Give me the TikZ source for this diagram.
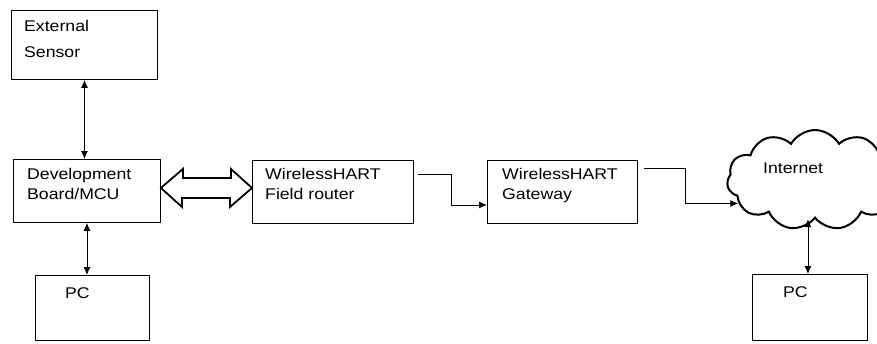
\documentclass[tikz,border=0pt]{standalone}
\usepackage{fontspec}
\setmainfont{Liberation Sans}[FakeStretch=1.14]
\usetikzlibrary{shapes.symbols,arrows.meta}

\begin{document}
\begin{tikzpicture}[x=1pt, y=-1pt,
  box/.style={draw, line width=0.9pt, inner sep=0pt, anchor=north west},
  txt/.style={anchor=north west, inner sep=0pt, align=left, font=\fontsize{15.5}{20}\selectfont},
  link/.style={line width=0.9pt, {Latex[length=8pt,width=7pt]}-{Latex[length=8pt,width=7pt]}},
  flow/.style={line width=0.9pt, -{Latex[length=8pt,width=7pt]}}]
  % page frame
  \useasboundingbox (0,0) rectangle (877,343);
  \clip (0,0) rectangle (877,343);

  % boxes
  \node[box, minimum width=146, minimum height=69] (sensor) at (11,10) {};
  \node[box, minimum width=147, minimum height=63] (board) at (13,159) {};
  \node[box, minimum width=114, minimum height=65] (pc1) at (35,275) {};
  \node[box, minimum width=161, minimum height=63] (router) at (252,160) {};
  \node[box, minimum width=150, minimum height=63] (gw) at (487,160) {};
  \node[box, minimum width=115, minimum height=66] (pc2) at (752,274) {};
  \node[cloud, draw, line width=2pt, cloud puffs=11, cloud puff arc=120, aspect=1.8,
        minimum width=176, minimum height=100, inner sep=0pt] (inet) at (815,180) {};

  % texts
  \node[txt] (sensortxt) at ([shift={(13,10)}]sensor.north west) {External\\[6pt]Sensor};
  \node[txt] (boardtxt) at ([shift={(14,9)}]board.north west) {Development\\Board/MCU};
  \node[txt] (pc1txt) at ([shift={(30,12)}]pc1.north west) {PC};
  \node[txt] (routertxt) at ([shift={(13,8)}]router.north west) {WirelessHART\\Field router};
  \node[txt] (gwtxt) at ([shift={(15,8)}]gw.north west) {WirelessHART\\Gateway};
  \node[txt] (pc2txt) at ([shift={(31,12)}]pc2.north west) {PC};
  \node[txt] (inettxt) at (763,163) {Internet};

  % connectors
  \draw[link] ([shift={(-2,0)}]inet.south -| pc2.north) -- ([shift={(-2,0)}]pc2.north);
  \draw[link] (sensor.south) -- (sensor.south |- board.north);
  \draw[link] (board.south) -- (board.south |- pc1.north);
  \draw[flow] ([shift={(4,14)}]router.north east) -- ++(34,0) |- ([shift={(0,13)}]gw.west);
  \draw[flow] ([shift={(6,8)}]gw.north east) -- ++(42,0) |- (inet.197);

  % wide double arrow
  \coordinate (l) at ([shift={(0,-3)}]board.east);
  \coordinate (r) at ([shift={(0,-4)}]router.west);
  \draw[line width=1.8pt, line join=miter] (l) -- ++(22,-19) -- ++(0,9) -- ++(48,0) -- ++(0,-9)
    -- (r) -- ++(-22,19) -- ++(0,-9) -- ++(-48,0) -- ++(0,9) -- cycle;
\end{tikzpicture}
\end{document}
